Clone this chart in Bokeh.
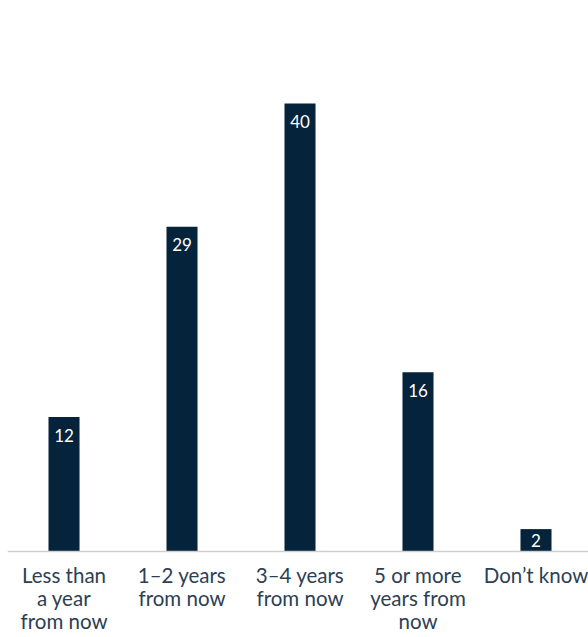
from bokeh.plotting import figure
from bokeh.models import Range1d, ColumnDataSource, Span
from bokeh.core.properties import value
from bokeh.embed import file_html
from bokeh.resources import INLINE

# Survey responses: when do you expect this to happen? (% of respondents)
categories = ["Less than\na year\nfrom now", "1\u20132 years\nfrom now", "3\u20134 years\nfrom now",
              "5 or more\nyears from\nnow", "Don\u2019t know"]
shares = [12, 29, 40, 16, 2]

BAR = "#05233a"
TEXT = "#2d4052"
FONT = "Lato"

HEIGHT = 637
BASE_PX = 551          # pixel row of the zero line
Y_TOP = 49.2
PX_PER_UNIT = BASE_PX / Y_TOP

# value labels sit near the top of a bar, or in its middle when the bar is short
label_offset = [min(18, v * PX_PER_UNIT / 2) for v in shares]

positions = list(range(len(categories)))
source = ColumnDataSource(dict(x=positions, y=shares, label=[str(v) for v in shares],
                               base=[0] * len(shares), category=categories,
                               offset=label_offset))

# frame covers the whole canvas; values below zero hold the category captions
p = figure(width=588, height=HEIGHT, output_backend="svg", toolbar_location=None,
           x_range=Range1d(-0.479, 4.445),
           y_range=Range1d(-(HEIGHT - BASE_PX) / PX_PER_UNIT, Y_TOP),
           min_border_left=7, min_border_right=0, min_border_top=0, min_border_bottom=0)
p.outline_line_color = None
p.grid.visible = False
p.axis.visible = False

p.vbar(x="x", top="y", width=0.263, source=source, fill_color=BAR, line_color=None)

# baseline
p.add_layout(Span(location=0, dimension="width", line_color="#cfcfcf", line_width=1.5))

p.text(x="x", y="y", text="label", source=source, text_color="white",
       text_font=value(FONT), text_font_size="17px", text_align="center",
       text_baseline="middle", y_offset="offset")

# category captions under the baseline
p.text(x="x", y="base", text="category", source=source, text_color=TEXT,
       text_font=value(FONT), text_font_size="20.5px", text_align="center",
       text_baseline="top", text_line_height=0.965, y_offset=11)

open("out.html", "w").write(file_html(p, INLINE))
